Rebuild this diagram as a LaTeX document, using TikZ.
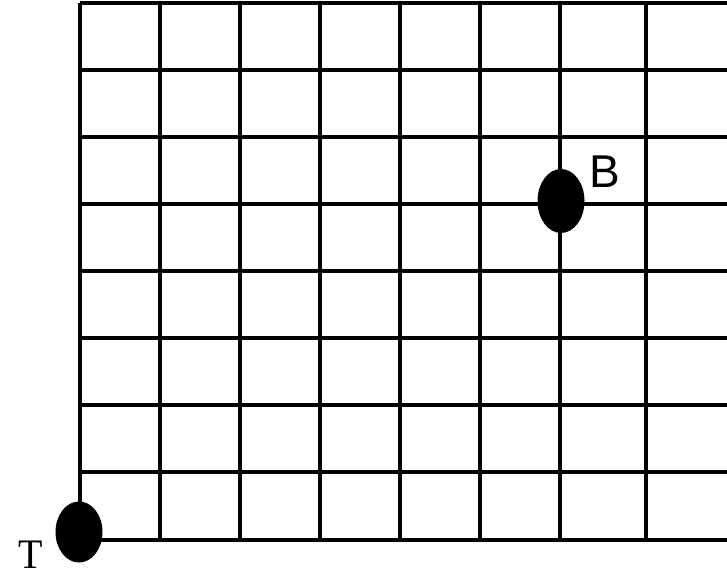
\documentclass[tikz,border=0pt]{standalone}
\usepackage{fontspec}
\usetikzlibrary{shapes.geometric}
\newfontfamily\sansf{Liberation Sans}
\newfontfamily\seriff{Liberation Serif}
\begin{document}
\begin{tikzpicture}[x=1pt,y=-1pt,
  gridline/.style={line width=3.4pt,black},
  dot/.style={ellipse,fill=black,inner sep=0pt},
  lbl/.style={inner sep=0pt}]
\useasboundingbox (0,0) rectangle (727,581);
\fill[white] (0,0) rectangle (727,581);
% vertical lines
\foreach \x in {80,160,240,320,400,480,560,646}
  \draw[gridline] (\x,3) -- (\x,540);
% horizontal lines
\foreach \y in {3,70,137,204,271,338,405,472,540}
  \draw[gridline] (80,\y) -- (727,\y);
\node[dot,minimum width=47pt,minimum height=64pt] (B) at (561,201) {};
\node[dot,minimum width=47pt,minimum height=61pt] (T) at (79,532) {};
\node[lbl,font=\sansf\fontsize{46}{46}\selectfont] (Bl) at (605,172) {B};
\node[lbl,font=\seriff\fontsize{42}{42}\selectfont,xscale=0.95] (Tl) at (31,555) {T};
\end{tikzpicture}
\end{document}
